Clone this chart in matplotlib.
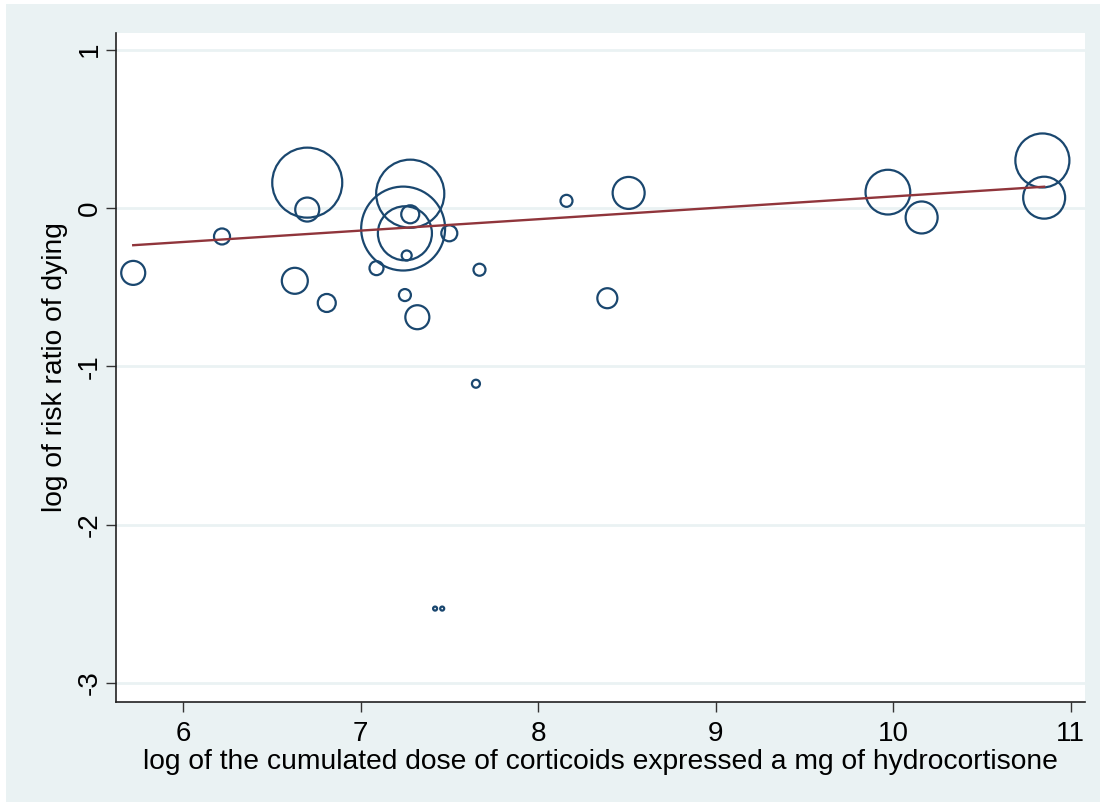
import matplotlib
matplotlib.use("Agg")
import matplotlib.pyplot as plt
from matplotlib.patches import Rectangle
import numpy as np

# log cumulated dose of corticoids (x), log risk ratio (y), study weight
dose = [5.72, 6.22, 6.63, 6.70, 6.70, 6.81, 7.09, 7.28, 7.24, 7.25, 7.28, 7.26,
        7.50, 7.67, 7.25, 7.32, 7.65, 8.16, 8.51, 8.39, 9.97, 10.16, 10.84, 10.85,
        7.42, 7.46]
logrr = [-0.41, -0.18, -0.46, 0.16, -0.01, -0.60, -0.38, 0.09, -0.13, -0.16, -0.04, -0.30,
         -0.16, -0.39, -0.55, -0.69, -1.11, 0.045, 0.095, -0.57, 0.10, -0.06, 0.30, 0.065,
         -2.53, -2.53]
weight = [1.44, 0.64, 1.69, 12.25, 1.44, 0.81, 0.49, 11.6, 17.6, 7.3, 0.81, 0.25,
          0.64, 0.36, 0.36, 1.44, 0.16, 0.36, 2.56, 1.0, 5.0, 2.56, 7.3, 4.4,
          0.04, 0.04]

# fitted meta-regression line
fit_intercept = -0.647
fit_slope = 0.072

xticks = [6, 7, 8, 9, 10, 11]
yticks = [-3, -2, -1, 0, 1]

W, H = 1106, 806
fig = plt.figure(figsize=(W / 100, H / 100), dpi=100, facecolor="white")
plt.rcParams['font.family'] = ['Liberation Sans', 'DejaVu Sans']
bg = "#eaf2f3"
fig.patches.append(Rectangle((6 / W, 4 / H), (1100 - 6) / W, (802 - 4) / H,
                             transform=fig.transFigure, facecolor=bg, edgecolor="none", zorder=-10))

ax = fig.add_axes([116 / W, 1 - 702 / H, (1085 - 116) / W, (702 - 33) / H])
ax.set_zorder(1)
ax.set_facecolor("white")
ax.set_xlim(5.623, 11.08)
ax.set_ylim(-3.12, 1.105)

for yt in yticks:
    ax.axhline(yt, color=bg, lw=2, zorder=1)

# bubble sizes: radius in px ~ 10*sqrt(weight)
r_pt = 10 * np.sqrt(np.array(weight)) * 0.72
sizes = (2 * r_pt) ** 2
ax.scatter(dose, logrr, s=sizes, facecolors="none", edgecolors="#1a476f", linewidths=1.6, zorder=3)

xl = np.array([min(dose), max(dose)])
ax.plot(xl, fit_intercept + fit_slope * xl, color="#90353b", lw=1.7, zorder=4)

ax.set_xticks(xticks)
ax.set_yticks(yticks)
ax.set_yticklabels([str(v) for v in yticks], rotation=90, va="center")
ax.tick_params(axis="both", labelsize=20, length=7.5, width=1, color="#333333")
ax.tick_params(axis="x", pad=6)
ax.tick_params(axis="y", pad=2)
for s in ["top", "right"]:
    ax.spines[s].set_visible(False)
for s in ["left", "bottom"]:
    ax.spines[s].set_color("#222222")
    ax.spines[s].set_linewidth(1.2)

ax.set_xlabel("log of the cumulated dose of corticoids expressed a mg of hydrocortisone",
              fontsize=20.3, va="center")
ax.xaxis.set_label_coords(0.5, (702 - 762) / 669)
ax.set_ylabel("log of risk ratio of dying", fontsize=20.3, va="center")
ax.yaxis.set_label_coords((55 - 116) / 969, 0.5 + (208 - 365) / 669 * 0 + (367.5 - 365) / 669 * 0)

fig.savefig("out.png", dpi=100, facecolor="white")
